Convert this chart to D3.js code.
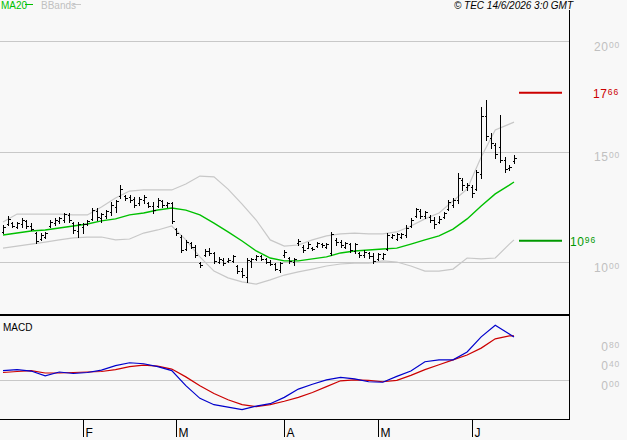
<!DOCTYPE html>
<html>
<head>
<meta charset="utf-8">
<script src="https://cdnjs.cloudflare.com/ajax/libs/d3/7.8.5/d3.min.js"></script>
<style>
  html, body { margin: 0; padding: 0; background: #f8f8f8; }
  svg { display: block; font-family: 'Liberation Sans', Arial, sans-serif; }
</style>
</head>
<body>
<div id="chart"></div>
<script>
// daily OHLC, one entry per trading day
const highs = [
  11.67, 12.08, 11.81, 11.81, 11.99, 11.90, 11.76, 11.36, 11.31, 11.36,
  11.90, 11.99, 12.04, 12.22, 12.22, 11.81, 11.81, 11.76, 11.90, 12.44,
  12.44, 12.22, 12.35, 12.71, 12.81, 13.48, 13.03, 13.03, 12.94, 12.94,
  13.03, 12.71, 12.71, 12.90, 12.81, 12.71, 12.71, 11.54, 11.22, 11.00,
  10.90, 10.77, 10.00, 10.59, 10.63, 10.45, 10.23, 10.18, 10.18, 10.32,
  9.86, 9.73, 10.18, 10.18, 10.32, 10.32, 10.18, 10.09, 9.95, 10.00,
  10.54, 10.23, 10.18, 11.04, 10.77, 10.90, 10.68, 10.90, 10.86, 10.86,
  11.36, 11.09, 11.00, 10.90, 10.86, 10.86, 10.45, 10.54, 10.45, 10.41,
  10.41, 10.41, 11.31, 11.27, 11.31, 11.31, 11.67, 11.99, 12.44, 12.40,
  12.31, 12.13, 12.04, 12.08, 12.26, 12.81, 12.90, 14.03, 13.80, 13.57,
  13.48, 14.16, 17.01, 17.33, 15.84, 15.38, 16.65, 14.75, 14.39, 14.84
];
const lows = [
  11.31, 11.67, 11.58, 11.54, 11.58, 11.54, 11.45, 10.86, 11.00, 11.09,
  11.58, 11.67, 11.76, 11.81, 11.81, 11.31, 11.13, 11.31, 11.67, 11.90,
  11.90, 11.81, 11.99, 12.13, 12.26, 12.90, 12.81, 12.71, 12.49, 12.58,
  12.67, 12.49, 12.22, 12.49, 12.49, 12.49, 11.76, 11.22, 10.45, 10.54,
  10.63, 10.23, 9.77, 10.27, 10.32, 9.95, 9.95, 9.86, 10.00, 10.00,
  9.50, 9.32, 9.10, 9.77, 10.09, 10.09, 9.95, 9.86, 9.64, 9.55,
  10.23, 9.95, 9.86, 10.77, 10.45, 10.63, 10.54, 10.68, 10.68, 10.63,
  10.32, 10.77, 10.68, 10.63, 10.45, 10.41, 10.23, 10.23, 10.18, 9.95,
  10.09, 10.14, 10.54, 11.09, 11.00, 11.09, 11.13, 11.58, 12.04, 11.99,
  11.99, 11.81, 11.54, 11.76, 11.99, 12.35, 12.49, 12.67, 13.26, 13.26,
  12.94, 13.26, 13.80, 15.52, 15.16, 14.71, 14.52, 14.07, 14.16, 14.48
];
const opens = [
  11.35, 11.72, 11.78, 11.60, 11.70, 11.85, 11.65, 11.30, 11.05, 11.15,
  11.62, 11.75, 11.85, 11.90, 12.12, 11.78, 11.40, 11.60, 11.70, 11.95,
  12.30, 12.00, 12.10, 12.25, 12.50, 13.00, 13.00, 12.95, 12.85, 12.65,
  12.80, 12.65, 12.55, 12.55, 12.75, 12.60, 12.65, 11.50, 11.15, 10.60,
  10.85, 10.70, 9.95, 10.30, 10.50, 10.40, 10.00, 10.10, 10.05, 10.05,
  9.80, 9.60, 9.30, 10.05, 10.15, 10.25, 10.12, 10.00, 9.90, 9.65,
  10.30, 10.20, 10.00, 10.85, 10.70, 10.65, 10.65, 10.72, 10.80, 10.70,
  10.40, 11.00, 10.90, 10.70, 10.80, 10.50, 10.40, 10.30, 10.40, 10.25,
  10.12, 10.20, 10.60, 11.15, 11.05, 11.15, 11.20, 11.65, 12.10, 12.30,
  12.10, 12.05, 11.90, 11.80, 12.05, 12.40, 12.60, 12.80, 13.70, 13.40,
  13.40, 13.30, 14.00, 16.60, 15.60, 15.30, 15.20, 14.60, 14.25, 14.55
];
const closes = [
  11.60, 11.95, 11.62, 11.76, 11.90, 11.62, 11.50, 10.95, 11.20, 11.30,
  11.80, 11.92, 11.98, 12.15, 11.88, 11.45, 11.70, 11.70, 11.85, 12.35,
  12.05, 12.15, 12.30, 12.60, 12.75, 13.30, 12.90, 12.80, 12.60, 12.85,
  12.95, 12.55, 12.35, 12.80, 12.60, 12.65, 11.85, 11.30, 10.55, 10.90,
  10.70, 10.30, 9.85, 10.50, 10.40, 10.05, 10.15, 9.95, 10.10, 10.28,
  9.60, 9.40, 10.10, 10.12, 10.28, 10.15, 10.00, 9.92, 9.70, 9.95,
  10.45, 10.05, 10.12, 10.95, 10.55, 10.80, 10.60, 10.85, 10.75, 10.80,
  11.25, 10.90, 10.75, 10.85, 10.55, 10.80, 10.30, 10.45, 10.25, 10.05,
  10.35, 10.35, 11.20, 11.20, 11.25, 11.28, 11.55, 11.90, 12.40, 12.10,
  12.25, 11.90, 11.70, 11.95, 12.20, 12.70, 12.80, 13.80, 13.50, 13.50,
  13.10, 14.05, 16.60, 15.70, 15.40, 14.90, 14.60, 14.20, 14.30, 14.70
];

// indicators, read every third trading day (plus the last one)
const lineIdx = [
  0, 3, 6, 9, 12, 15, 18, 21, 24, 27, 30, 33, 36, 39, 42, 45, 48, 51, 54,
  57, 60, 63, 66, 69, 72, 75, 78, 81, 84, 87, 90, 93, 96, 99, 102, 105, 108, 109
];
const ma20 = [
  11.22, 11.31, 11.40, 11.45, 11.54, 11.63, 11.72, 11.86, 11.95, 12.13,
  12.22, 12.35, 12.44, 12.35, 12.13, 11.76, 11.36, 10.95, 10.50, 10.18,
  10.05, 10.05, 10.14, 10.23, 10.41, 10.50, 10.54, 10.59, 10.63, 10.81,
  11.00, 11.18, 11.49, 11.95, 12.53, 13.08, 13.48, 13.62
];
const bbUpper = [
  11.81, 12.17, 12.17, 12.17, 12.17, 12.13, 12.13, 12.49, 12.90, 13.21,
  13.26, 13.26, 13.26, 13.53, 13.89, 13.85, 13.30, 12.62, 11.90, 11.00,
  10.72, 10.77, 11.00, 11.18, 11.27, 11.31, 11.27, 11.27, 11.36, 11.63,
  11.95, 12.22, 12.76, 13.30, 14.75, 15.97, 16.24, 16.33
];
const bbLower = [
  10.63, 10.72, 10.81, 10.90, 11.00, 11.09, 11.13, 11.13, 11.00, 11.04,
  11.31, 11.45, 11.63, 11.00, 10.23, 9.59, 9.28, 9.10, 9.00, 9.19,
  9.41, 9.55, 9.68, 9.82, 9.91, 9.95, 9.95, 10.05, 10.00, 9.82,
  9.59, 9.59, 9.68, 10.18, 10.14, 10.18, 10.81, 11.00
];
const macdLine = [
  0.20, 0.22, 0.19, 0.09, 0.17, 0.14, 0.16, 0.21, 0.30, 0.36,
  0.34, 0.28, 0.20, -0.11, -0.37, -0.50, -0.55, -0.60, -0.53, -0.48,
  -0.35, -0.18, -0.08, 0.01, 0.06, 0.03, -0.03, -0.04, 0.08, 0.19,
  0.38, 0.42, 0.42, 0.58, 0.89, 1.13, 0.95, 0.89
];
const signalLine = [
  0.16, 0.18, 0.20, 0.15, 0.15, 0.16, 0.17, 0.18, 0.22, 0.28,
  0.31, 0.29, 0.23, 0.07, -0.11, -0.27, -0.40, -0.50, -0.54, -0.50,
  -0.43, -0.35, -0.25, -0.13, -0.01, 0.01, 0.00, -0.03, 0.00, 0.10,
  0.22, 0.32, 0.42, 0.52, 0.66, 0.85, 0.91, 0.91
];

const priceTicks = [10, 15, 20];
const macdTicks = [0, 0.4, 0.8];
const months = ['F', 'M', 'A', 'M', 'J'];
const monthIdx = [17, 37, 60, 80, 100];
const resistance = 17.66;
const support = 10.96;

const W = 627, H = 440;
const plotRight = 569, priceBottom = 315, macdBottom = 419;

const svg = d3
  .select('#chart')
  .append('svg')
  .attr('width', W)
  .attr('height', H);

svg.append('rect').attr('width', W).attr('height', H).attr('fill', '#f8f8f8');

const x = d3.scaleLinear().domain([0, highs.length - 1]).range([3, 514]);
const y = d3.scaleLinear().domain([10, 20]).range([262, 41]);
const yM = d3.scaleLinear().domain([0, 0.8]).range([380.3, 341.3]);

const crisp = (v) => Math.round(v) + 0.5;

// split 15.00 -> "15" + small "00" like the original labels
function splitLabel(sel, v) {
  const parts = v.toFixed(2).split('.');
  sel.append('tspan').style('font-size', '12px').style('letter-spacing', '0.5px').text(parts[0]);
  sel
    .append('tspan')
    .attr('dy', -3)
    .attr('dx', 0.5)
    .style('font-size', '8.5px')
    .style('letter-spacing', '0.8px')
    .text(parts[1]);
}

// gridlines
svg
  .selectAll('.grid')
  .data(priceTicks)
  .enter()
  .append('line')
  .attr('x1', 0)
  .attr('x2', plotRight)
  .attr('y1', (d) => crisp(y(d)))
  .attr('y2', (d) => crisp(y(d)))
  .attr('stroke', '#c8c8c8');

svg
  .append('line')
  .attr('x1', 0)
  .attr('x2', plotRight)
  .attr('y1', crisp(yM(0)))
  .attr('y2', crisp(yM(0)))
  .attr('stroke', '#c8c8c8');

// axis labels
priceTicks.forEach((v) => {
  const t = svg
    .append('text')
    .attr('x', 620)
    .attr('y', y(v) + 9.5)
    .attr('text-anchor', 'end')
    .attr('fill', '#c0c0c0');
  splitLabel(t, v);
});

macdTicks.forEach((v) => {
  const t = svg
    .append('text')
    .attr('x', 620)
    .attr('y', yM(v) + 9.5)
    .attr('text-anchor', 'end')
    .attr('fill', '#c0c0c0');
  splitLabel(t, v);
});

// bollinger bands + ma20
const pts = (arr, sc) => arr.map((v, i) => [x(lineIdx[i]), sc(v)]);
const path = d3.line();

[bbUpper, bbLower].forEach((arr) => {
  svg
    .append('path')
    .attr('d', path(pts(arr, y)))
    .attr('fill', 'none')
    .attr('stroke', '#c8c8c8')
    .attr('stroke-width', 1.2);
});

svg
  .append('path')
  .attr('d', path(pts(ma20, y)))
  .attr('fill', 'none')
  .attr('stroke', '#00c000')
  .attr('stroke-width', 1.4);

// OHLC bars
const bars = svg.append('g').attr('stroke', '#000').attr('shape-rendering', 'crispEdges');
highs.forEach((h, i) => {
  const cx = crisp(x(i));
  bars
    .append('line')
    .attr('x1', cx)
    .attr('x2', cx)
    .attr('y1', Math.round(y(h)))
    .attr('y2', Math.round(y(lows[i])) + 1)
    .attr('stroke-width', 1.5);
  bars
    .append('line')
    .attr('x1', cx - 2)
    .attr('x2', cx)
    .attr('y1', crisp(y(opens[i])))
    .attr('y2', crisp(y(opens[i])));
  bars
    .append('line')
    .attr('x1', cx)
    .attr('x2', cx + 2.5)
    .attr('y1', crisp(y(closes[i])))
    .attr('y2', crisp(y(closes[i])));
});

// resistance / support marks
svg
  .append('line')
  .attr('x1', 519)
  .attr('x2', 562)
  .attr('y1', y(resistance))
  .attr('y2', y(resistance))
  .attr('stroke', '#cc0000')
  .attr('stroke-width', 2);
svg
  .append('line')
  .attr('x1', 519)
  .attr('x2', 562)
  .attr('y1', y(support))
  .attr('y2', y(support))
  .attr('stroke', '#009900')
  .attr('stroke-width', 2);

const rl = svg
  .append('text')
  .attr('x', 593)
  .attr('y', y(resistance) + 5)
  .attr('fill', '#cc0000');
splitLabel(rl, resistance);

const sl = svg
  .append('text')
  .attr('x', 570)
  .attr('y', y(support) + 5)
  .attr('fill', '#009900');
splitLabel(sl, support);

// MACD
svg
  .append('path')
  .attr('d', path(pts(signalLine, yM)))
  .attr('fill', 'none')
  .attr('stroke', '#cc0000')
  .attr('stroke-width', 1.2);
svg
  .append('path')
  .attr('d', path(pts(macdLine, yM)))
  .attr('fill', 'none')
  .attr('stroke', '#0000cc')
  .attr('stroke-width', 1.2);

// frame
svg
  .append('line')
  .attr('x1', 0)
  .attr('x2', plotRight)
  .attr('y1', priceBottom)
  .attr('y2', priceBottom)
  .attr('stroke', '#000')
  .attr('stroke-width', 2);
svg
  .append('line')
  .attr('x1', 0)
  .attr('x2', plotRight + 0.5)
  .attr('y1', macdBottom + 0.5)
  .attr('y2', macdBottom + 0.5)
  .attr('stroke', '#000');
svg
  .append('line')
  .attr('x1', plotRight + 0.5)
  .attr('x2', plotRight + 0.5)
  .attr('y1', 10)
  .attr('y2', macdBottom + 1)
  .attr('stroke', '#000');

// month ticks
const mt = svg
  .selectAll('.month')
  .data(months)
  .enter()
  .append('g')
  .attr('transform', (d, i) => `translate(${crisp(x(monthIdx[i]))},0)`);
mt.append('line')
  .attr('y1', macdBottom)
  .attr('y2', 437)
  .attr('stroke', '#000');
mt.append('text')
  .attr('x', 2)
  .attr('y', 437)
  .style('font-size', '12px')
  .text((d) => d);

// legend + labels
svg.append('text').attr('x', 1).attr('y', 8.5).attr('fill', '#00c000').style('font-size', '10px').text('MA20');
svg.append('line').attr('x1', 25).attr('x2', 33).attr('y1', 4.5).attr('y2', 4.5).attr('stroke', '#00c000');
svg.append('text').attr('x', 41).attr('y', 8.5).attr('fill', '#c0c0c0').style('font-size', '10px').text('BBands');
svg.append('line').attr('x1', 73).attr('x2', 81).attr('y1', 4.5).attr('y2', 4.5).attr('stroke', '#c8c8c8');

svg
  .append('text')
  .attr('x', 573)
  .attr('y', 8.5)
  .attr('text-anchor', 'end')
  .style('font-size', '10px')
  .style('font-style', 'italic')
  .text('\u00a9 TEC 14/6/2026 3:0 GMT');

svg.append('text').attr('x', 3).attr('y', 331).style('font-size', '10px').text('MACD');
</script>
</body>
</html>
